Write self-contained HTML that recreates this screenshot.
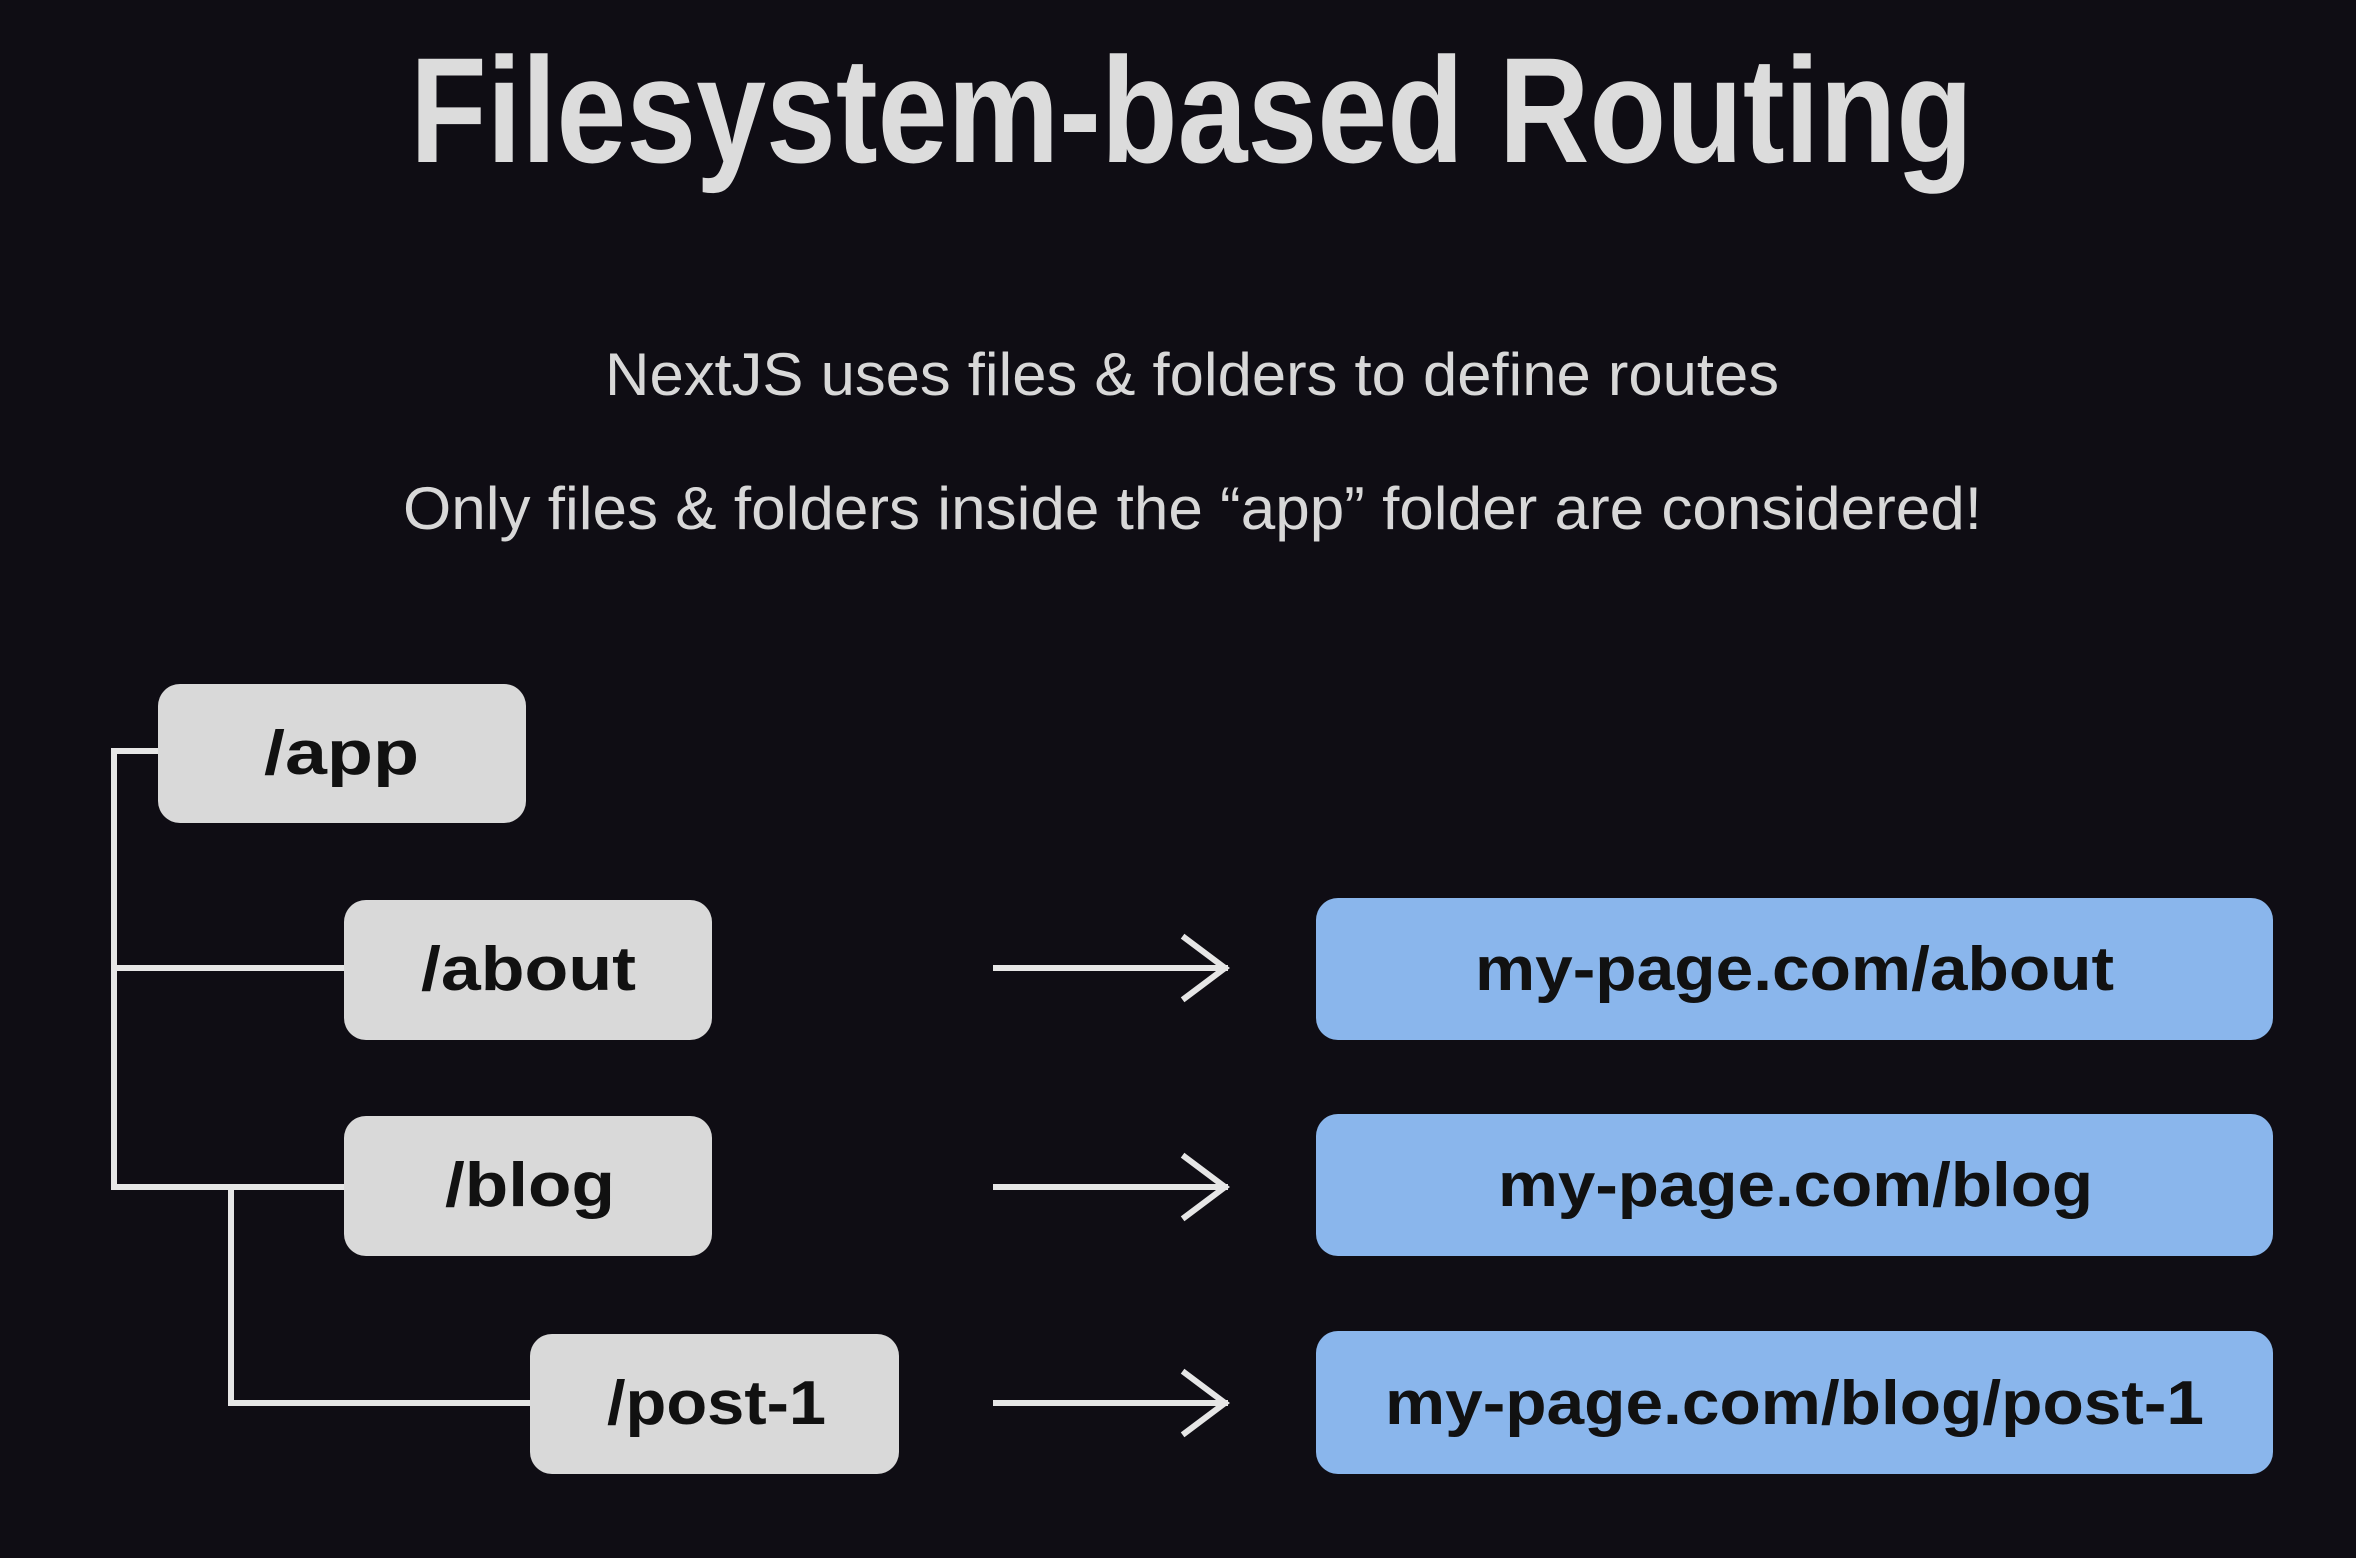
<!DOCTYPE html>
<html><head><meta charset="utf-8"><style>
html,body{margin:0;padding:0;background:#0f0d14;}
svg{display:block;}
</style></head><body>
<svg width="2356" height="1558" viewBox="0 0 2356 1558" xmlns="http://www.w3.org/2000/svg">
<rect width="2356" height="1558" fill="#0f0d14"/>
<g font-family="Liberation Sans, sans-serif">
<text x="410" y="162" font-size="150" font-weight="bold" fill="#dcdcdc" textLength="1563" lengthAdjust="spacingAndGlyphs">Filesystem-based Routing</text>
<text x="605" y="395" font-size="60" fill="#d8d8d8" textLength="1174" lengthAdjust="spacingAndGlyphs">NextJS uses files &amp; folders to define routes</text>
<text x="403" y="529" font-size="60" fill="#d8d8d8" textLength="1579" lengthAdjust="spacingAndGlyphs">Only files &amp; folders inside the “app” folder are considered!</text>
</g>
<g stroke="#e6e6e6" stroke-width="6" fill="none" stroke-linecap="square">
<path d="M158 751 H114 V1187 H344"/>
<path d="M114 968 H344"/>
<path d="M231 1187 V1403 H530"/>
<path d="M996 968 H1225 M1185 938 L1225 968 L1185 998"/>
<path d="M996 1187 H1225 M1185 1157 L1225 1187 L1185 1217"/>
<path d="M996 1403 H1225 M1185 1373 L1225 1403 L1185 1433"/>
</g>
<g fill="#d9d9d9">
<rect x="158" y="684" width="368" height="139" rx="22"/>
<rect x="344" y="900" width="368" height="140" rx="22"/>
<rect x="344" y="1116" width="368" height="140" rx="22"/>
<rect x="530" y="1334" width="369" height="140" rx="22"/>
</g>
<g fill="#8ab6ec">
<rect x="1316" y="898" width="957" height="142" rx="22"/>
<rect x="1316" y="1114" width="957" height="142" rx="22"/>
<rect x="1316" y="1331" width="957" height="143" rx="22"/>
</g>
<g font-family="Liberation Sans, sans-serif" font-size="62" font-weight="bold" fill="#111" lengthAdjust="spacingAndGlyphs">
<text x="264" y="774" textLength="155" lengthAdjust="spacingAndGlyphs">/app</text>
<text x="421" y="990" textLength="215" lengthAdjust="spacingAndGlyphs">/about</text>
<text x="445" y="1206" textLength="170" lengthAdjust="spacingAndGlyphs">/blog</text>
<text x="607" y="1424" textLength="219" lengthAdjust="spacingAndGlyphs">/post-1</text>
<text x="1475" y="990" textLength="639" lengthAdjust="spacingAndGlyphs">my-page.com/about</text>
<text x="1498" y="1206" textLength="595" lengthAdjust="spacingAndGlyphs">my-page.com/blog</text>
<text x="1385" y="1424" textLength="819" lengthAdjust="spacingAndGlyphs">my-page.com/blog/post-1</text>
</g>
</svg>
</body></html>
